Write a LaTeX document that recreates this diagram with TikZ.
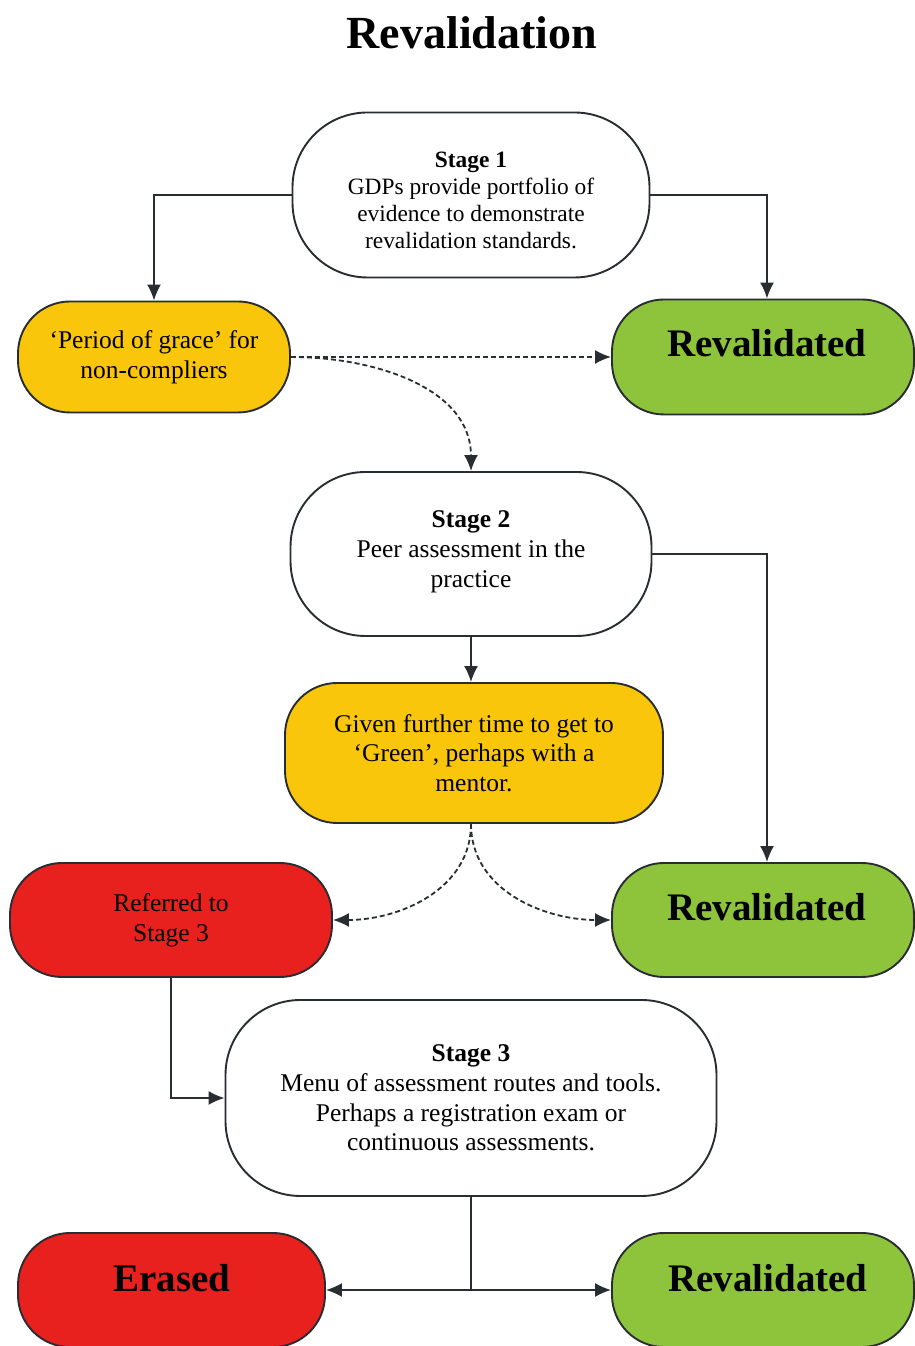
\documentclass[tikz,border=0pt]{standalone}
\usepackage{fontspec}
\setmainfont{Liberation Serif}
\usetikzlibrary{arrows.meta}
\definecolor{ylw}{RGB}{250,198,12}
\definecolor{grn}{RGB}{141,196,60}
\definecolor{rd}{RGB}{232,32,30}
\definecolor{edge}{RGB}{40,45,50}
\begin{document}
\begin{tikzpicture}[x=1pt,y=1pt,
  shapebase/.style={draw=edge,line width=1.9pt,align=center,inner sep=0pt},
  stagebox/.style={shapebase,fill=white,rounded corners=75pt,font=\fontsize{25.5}{29.7}\selectfont},
  colbox/.style={shapebase,rounded corners=52pt,font=\fontsize{25.5}{29.7}\selectfont},
  bigtext/.style={font=\bfseries\fontsize{39}{44}\selectfont,inner sep=0pt},
  conn/.style={draw=edge,line width=1.8pt,-{Latex[length=16pt,width=14pt]}},
  dconn/.style={conn,dash pattern=on 5pt off 3pt}
]
\useasboundingbox (0,0) rectangle (915,1346);
\fill[white] (0,0) rectangle (915,1346);

\node[font=\bfseries\fontsize{46}{50}\selectfont,inner sep=0pt] (title) at (472,1313) {Revalidation};

\node[stagebox,minimum width=357pt,minimum height=165pt] (s1) at (471,1151) {};
\node[align=center,inner sep=0pt,font=\fontsize{23.4}{27}\selectfont] (s1t) at (471,1146)
  {\textbf{Stage 1}\\GDPs provide portfolio of\\evidence to demonstrate\\revalidation standards.};
\node[colbox,fill=ylw,minimum width=272pt,minimum height=111pt] (pg) at (154,989)
  {‘Period of grace’ for\\non-compliers};
\node[colbox,fill=grn,minimum width=302pt,minimum height=115pt] (rv1) at (763,989) {};
\node[bigtext] (rv1t) at (767,1003) {Revalidated};

\node[stagebox,minimum width=361pt,minimum height=164pt] (s2) at (471,792)
  {\textbf{Stage 2}\\Peer assessment in the\\practice\\[-20pt]\mbox{}};
\node[colbox,fill=ylw,minimum width=378pt,minimum height=140pt] (gv) at (474,593)
  {Given further time to get to\\‘Green’, perhaps with a\\mentor.};

\node[colbox,fill=rd,minimum width=322pt,minimum height=114pt] (rf) at (171,426)
  {Referred to\\Stage 3};
\node[colbox,fill=grn,minimum width=302pt,minimum height=114pt] (rv2) at (763,426) {};
\node[bigtext] (rv2t) at (767,439) {Revalidated};

\node[stagebox,minimum width=491pt,minimum height=196pt] (s3) at (471,248)
  {\textbf{Stage 3}\\Menu of assessment routes and tools.\\Perhaps a registration exam or\\continuous assessments.};

\node[colbox,fill=rd,minimum width=307pt,minimum height=114pt] (er) at (171.5,56) {};
\node[bigtext] (ert) at (172,68) {Erased};
\node[colbox,fill=grn,minimum width=302pt,minimum height=114pt] (rv3) at (763,56) {};
\node[bigtext] (rv3t) at (768,68) {Revalidated};

% connectors
\draw[conn] (s1.west) -| (pg.north);
\draw[conn] (s1.east) -| ([xshift=4pt]rv1.north);
\draw[dconn] (pg.east) -- (rv1.west);
\draw[dconn] (pg.east) to[out=0,in=90] (s2.north);
\draw[conn] (s2.south) -- (s2.south |- gv.north);
\draw[conn] (s2.east) -| ([xshift=4pt]rv2.north);
\draw[dconn] ([xshift=-3pt]gv.south) to[out=-90,in=0] (rf.east);
\draw[dconn] ([xshift=-3pt]gv.south) to[out=-90,in=180] (rv2.west);
\draw[conn] (rf.south) |- (s3.west);
\draw[line width=1.8pt,draw=edge] (s3.south) -- (s3.south |- er.east) coordinate (split);
\draw[conn] (split) -- (er.east);
\draw[conn] (split) -- (rv3.west);
\end{tikzpicture}
\end{document}
